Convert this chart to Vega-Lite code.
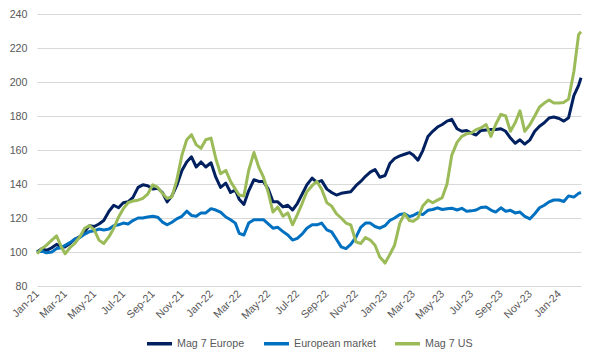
{
  "$schema": "https://vega.github.io/schema/vega-lite/v6.json",
  "width": 544,
  "height": 272,
  "autosize": "none",
  "padding": {"left": 37, "top": 14, "right": 22, "bottom": 76},
  "background": "white",
  "config": {
    "view": {"stroke": null},
    "font": "Liberation Sans",
    "axis": {"labelFont": "Liberation Sans", "labelFontSize": 10.7, "labelColor": "#595959"},
    "legend": {"labelFont": "Liberation Sans", "labelFontSize": 10.7, "labelColor": "#595959", "layout": {"bottom": {"anchor": "middle"}}}
  },
  "data": {"values": [
    {"d":"2021-01-01","Mag 7 Europe":100,"European market":100,"Mag 7 US":99},
    {"d":"2021-01-11","Mag 7 Europe":102,"European market":100.5,"Mag 7 US":102},
    {"d":"2021-01-21","Mag 7 Europe":101,"European market":99.5,"Mag 7 US":104},
    {"d":"2021-02-01","Mag 7 Europe":102.5,"European market":100,"Mag 7 US":107},
    {"d":"2021-02-11","Mag 7 Europe":104.5,"European market":102,"Mag 7 US":109.5},
    {"d":"2021-02-21","Mag 7 Europe":103,"European market":102.5,"Mag 7 US":103},
    {"d":"2021-03-01","Mag 7 Europe":103,"European market":104,"Mag 7 US":99},
    {"d":"2021-03-11","Mag 7 Europe":105,"European market":105.5,"Mag 7 US":102.5},
    {"d":"2021-03-21","Mag 7 Europe":107.5,"European market":107.5,"Mag 7 US":105},
    {"d":"2021-04-01","Mag 7 Europe":109,"European market":108.5,"Mag 7 US":109},
    {"d":"2021-04-11","Mag 7 Europe":112,"European market":110.5,"Mag 7 US":114},
    {"d":"2021-04-21","Mag 7 Europe":115.5,"European market":112,"Mag 7 US":115.5},
    {"d":"2021-05-01","Mag 7 Europe":115,"European market":112.5,"Mag 7 US":113},
    {"d":"2021-05-11","Mag 7 Europe":116.5,"European market":113.5,"Mag 7 US":107},
    {"d":"2021-05-21","Mag 7 Europe":118.5,"European market":113,"Mag 7 US":105},
    {"d":"2021-06-01","Mag 7 Europe":124,"European market":113.5,"Mag 7 US":109},
    {"d":"2021-06-11","Mag 7 Europe":127.5,"European market":115.5,"Mag 7 US":114},
    {"d":"2021-06-21","Mag 7 Europe":126,"European market":116,"Mag 7 US":120.5},
    {"d":"2021-07-01","Mag 7 Europe":129,"European market":117,"Mag 7 US":125.5},
    {"d":"2021-07-11","Mag 7 Europe":129.5,"European market":116.5,"Mag 7 US":129},
    {"d":"2021-07-21","Mag 7 Europe":132,"European market":118.5,"Mag 7 US":130},
    {"d":"2021-08-01","Mag 7 Europe":138,"European market":120,"Mag 7 US":130.5},
    {"d":"2021-08-11","Mag 7 Europe":139.5,"European market":120,"Mag 7 US":131.5},
    {"d":"2021-08-21","Mag 7 Europe":139,"European market":120.6,"Mag 7 US":134},
    {"d":"2021-09-01","Mag 7 Europe":137,"European market":121,"Mag 7 US":139.5},
    {"d":"2021-09-11","Mag 7 Europe":137.5,"European market":120.5,"Mag 7 US":138},
    {"d":"2021-09-21","Mag 7 Europe":135,"European market":117.6,"Mag 7 US":134.5},
    {"d":"2021-10-01","Mag 7 Europe":129.5,"European market":116,"Mag 7 US":131.5},
    {"d":"2021-10-11","Mag 7 Europe":133,"European market":117.5,"Mag 7 US":132.5},
    {"d":"2021-10-21","Mag 7 Europe":139,"European market":119.5,"Mag 7 US":142},
    {"d":"2021-11-01","Mag 7 Europe":148,"European market":121,"Mag 7 US":157},
    {"d":"2021-11-11","Mag 7 Europe":153,"European market":124,"Mag 7 US":166},
    {"d":"2021-11-21","Mag 7 Europe":156,"European market":121.5,"Mag 7 US":169},
    {"d":"2021-12-01","Mag 7 Europe":150,"European market":121,"Mag 7 US":163},
    {"d":"2021-12-11","Mag 7 Europe":153,"European market":123,"Mag 7 US":161},
    {"d":"2021-12-21","Mag 7 Europe":150,"European market":123,"Mag 7 US":166},
    {"d":"2022-01-01","Mag 7 Europe":152.5,"European market":125.5,"Mag 7 US":167},
    {"d":"2022-01-11","Mag 7 Europe":144,"European market":124.7,"Mag 7 US":155},
    {"d":"2022-01-21","Mag 7 Europe":138,"European market":123.5,"Mag 7 US":146},
    {"d":"2022-02-01","Mag 7 Europe":140.5,"European market":120.6,"Mag 7 US":148},
    {"d":"2022-02-11","Mag 7 Europe":135,"European market":119,"Mag 7 US":141.5},
    {"d":"2022-02-21","Mag 7 Europe":136.5,"European market":117,"Mag 7 US":137},
    {"d":"2022-03-01","Mag 7 Europe":131,"European market":111,"Mag 7 US":133.5},
    {"d":"2022-03-11","Mag 7 Europe":128,"European market":110,"Mag 7 US":133},
    {"d":"2022-03-21","Mag 7 Europe":136,"European market":117,"Mag 7 US":148},
    {"d":"2022-04-01","Mag 7 Europe":142.5,"European market":119,"Mag 7 US":158.5},
    {"d":"2022-04-11","Mag 7 Europe":141.5,"European market":119,"Mag 7 US":150},
    {"d":"2022-04-21","Mag 7 Europe":141.5,"European market":119,"Mag 7 US":144},
    {"d":"2022-05-01","Mag 7 Europe":137,"European market":116.5,"Mag 7 US":135},
    {"d":"2022-05-11","Mag 7 Europe":129.5,"European market":114,"Mag 7 US":123.5},
    {"d":"2022-05-21","Mag 7 Europe":129.5,"European market":114.5,"Mag 7 US":126.5},
    {"d":"2022-06-01","Mag 7 Europe":126.5,"European market":112,"Mag 7 US":121},
    {"d":"2022-06-11","Mag 7 Europe":127.5,"European market":110,"Mag 7 US":123},
    {"d":"2022-06-21","Mag 7 Europe":124.7,"European market":107,"Mag 7 US":116},
    {"d":"2022-07-01","Mag 7 Europe":128.5,"European market":108,"Mag 7 US":122},
    {"d":"2022-07-11","Mag 7 Europe":134,"European market":110.5,"Mag 7 US":128.5},
    {"d":"2022-07-21","Mag 7 Europe":139.5,"European market":114,"Mag 7 US":135.5},
    {"d":"2022-08-01","Mag 7 Europe":143.5,"European market":116,"Mag 7 US":139},
    {"d":"2022-08-11","Mag 7 Europe":141,"European market":116,"Mag 7 US":141.5},
    {"d":"2022-08-21","Mag 7 Europe":142,"European market":117,"Mag 7 US":137},
    {"d":"2022-09-01","Mag 7 Europe":137,"European market":113,"Mag 7 US":129},
    {"d":"2022-09-11","Mag 7 Europe":135,"European market":111.8,"Mag 7 US":127},
    {"d":"2022-09-21","Mag 7 Europe":133.5,"European market":107.5,"Mag 7 US":122.5},
    {"d":"2022-10-01","Mag 7 Europe":134.5,"European market":103,"Mag 7 US":120},
    {"d":"2022-10-11","Mag 7 Europe":135,"European market":102,"Mag 7 US":117},
    {"d":"2022-10-21","Mag 7 Europe":135.5,"European market":104.5,"Mag 7 US":116},
    {"d":"2022-11-01","Mag 7 Europe":139,"European market":108.8,"Mag 7 US":106},
    {"d":"2022-11-11","Mag 7 Europe":141.5,"European market":114.5,"Mag 7 US":105},
    {"d":"2022-11-21","Mag 7 Europe":144.5,"European market":117,"Mag 7 US":108.5},
    {"d":"2022-12-01","Mag 7 Europe":147,"European market":117,"Mag 7 US":107},
    {"d":"2022-12-11","Mag 7 Europe":148.5,"European market":115,"Mag 7 US":104},
    {"d":"2022-12-21","Mag 7 Europe":144,"European market":114,"Mag 7 US":97},
    {"d":"2023-01-01","Mag 7 Europe":145,"European market":115.5,"Mag 7 US":93.5},
    {"d":"2023-01-11","Mag 7 Europe":152,"European market":118.5,"Mag 7 US":98.5},
    {"d":"2023-01-21","Mag 7 Europe":155,"European market":120,"Mag 7 US":104},
    {"d":"2023-02-01","Mag 7 Europe":156.5,"European market":122,"Mag 7 US":117},
    {"d":"2023-02-11","Mag 7 Europe":157.5,"European market":122.5,"Mag 7 US":122.5},
    {"d":"2023-02-21","Mag 7 Europe":158.5,"European market":120.8,"Mag 7 US":118.5},
    {"d":"2023-03-01","Mag 7 Europe":157,"European market":121.5,"Mag 7 US":118},
    {"d":"2023-03-11","Mag 7 Europe":154,"European market":123,"Mag 7 US":120},
    {"d":"2023-03-21","Mag 7 Europe":159.5,"European market":122,"Mag 7 US":127},
    {"d":"2023-04-01","Mag 7 Europe":168,"European market":124.5,"Mag 7 US":130.5},
    {"d":"2023-04-11","Mag 7 Europe":171,"European market":125,"Mag 7 US":129},
    {"d":"2023-04-21","Mag 7 Europe":173.5,"European market":126,"Mag 7 US":130.5},
    {"d":"2023-05-01","Mag 7 Europe":175,"European market":125,"Mag 7 US":132},
    {"d":"2023-05-11","Mag 7 Europe":177,"European market":125.5,"Mag 7 US":140},
    {"d":"2023-05-21","Mag 7 Europe":178,"European market":125.8,"Mag 7 US":157},
    {"d":"2023-06-01","Mag 7 Europe":172.5,"European market":124.7,"Mag 7 US":164.5},
    {"d":"2023-06-11","Mag 7 Europe":171,"European market":125.7,"Mag 7 US":168},
    {"d":"2023-06-21","Mag 7 Europe":171.5,"European market":124,"Mag 7 US":169.5},
    {"d":"2023-07-01","Mag 7 Europe":170,"European market":124.2,"Mag 7 US":170},
    {"d":"2023-07-11","Mag 7 Europe":168.8,"European market":124.7,"Mag 7 US":172},
    {"d":"2023-07-21","Mag 7 Europe":171.5,"European market":126.2,"Mag 7 US":173},
    {"d":"2023-08-01","Mag 7 Europe":171.8,"European market":126.5,"Mag 7 US":175},
    {"d":"2023-08-11","Mag 7 Europe":172,"European market":124.7,"Mag 7 US":168},
    {"d":"2023-08-21","Mag 7 Europe":172,"European market":123.5,"Mag 7 US":175},
    {"d":"2023-09-01","Mag 7 Europe":172.5,"European market":126,"Mag 7 US":181},
    {"d":"2023-09-11","Mag 7 Europe":171,"European market":124,"Mag 7 US":180},
    {"d":"2023-09-21","Mag 7 Europe":167,"European market":124.5,"Mag 7 US":171},
    {"d":"2023-10-01","Mag 7 Europe":164,"European market":123,"Mag 7 US":176},
    {"d":"2023-10-11","Mag 7 Europe":166,"European market":123.5,"Mag 7 US":183},
    {"d":"2023-10-21","Mag 7 Europe":163.5,"European market":121,"Mag 7 US":171},
    {"d":"2023-11-01","Mag 7 Europe":166,"European market":119.5,"Mag 7 US":175},
    {"d":"2023-11-11","Mag 7 Europe":171,"European market":122.5,"Mag 7 US":180},
    {"d":"2023-11-21","Mag 7 Europe":174,"European market":126,"Mag 7 US":185.3},
    {"d":"2023-12-01","Mag 7 Europe":176,"European market":127.5,"Mag 7 US":187.6},
    {"d":"2023-12-11","Mag 7 Europe":178.8,"European market":129.5,"Mag 7 US":189.4},
    {"d":"2023-12-21","Mag 7 Europe":179.4,"European market":130.6,"Mag 7 US":187.6},
    {"d":"2024-01-01","Mag 7 Europe":178.5,"European market":130.6,"Mag 7 US":187.6},
    {"d":"2024-01-11","Mag 7 Europe":177,"European market":129.7,"Mag 7 US":188},
    {"d":"2024-01-21","Mag 7 Europe":179,"European market":133,"Mag 7 US":190},
    {"d":"2024-02-01","Mag 7 Europe":192,"European market":132.3,"Mag 7 US":206},
    {"d":"2024-02-11","Mag 7 Europe":198,"European market":134.5,"Mag 7 US":228},
    {"d":"2024-02-16","Mag 7 Europe":202.5,"European market":135,"Mag 7 US":229.5}
  ]},
  "transform": [
    {"fold": ["Mag 7 Europe", "European market", "Mag 7 US"], "as": ["series", "value"]}
  ],
  "mark": {"type": "line", "strokeWidth": 3, "strokeJoin": "round"},
  "encoding": {
    "x": {
      "field": "d", "type": "temporal",
      "scale": {"type": "utc", "nice": false},
      "axis": {
        "title": null,
        "labelExpr": "utcFormat(datum.value, '%b-%y')",
        "tickCount": {"interval": "month", "step": 2},
        "labelAngle": -45, "labelAlign": "right", "labelBaseline": "middle",
        "labelPadding": 6, "ticks": false, "domain": false, "grid": false,
        "labelOverlap": false, "labelFlush": false
      }
    },
    "y": {
      "field": "value", "type": "quantitative",
      "scale": {"domain": [80, 240], "nice": false, "zero": false},
      "axis": {
        "title": null, "values": [80, 100, 120, 140, 160, 180, 200, 220, 240],
        "ticks": false, "domain": false, "labelPadding": 10,
        "gridColor": "#D9D9D9", "gridWidth": 1
      }
    },
    "color": {
      "field": "series", "type": "nominal",
      "scale": {"domain": ["Mag 7 Europe", "European market", "Mag 7 US"], "range": ["#002060", "#0070C0", "#9BBB59"]},
      "legend": {
        "title": null, "orient": "bottom", "direction": "horizontal",
        "symbolType": "stroke", "symbolStrokeWidth": 3.5, "symbolSize": 625,
        "labelOffset": 3, "columnPadding": 12, "offset": 8
      }
    }
  }
}
